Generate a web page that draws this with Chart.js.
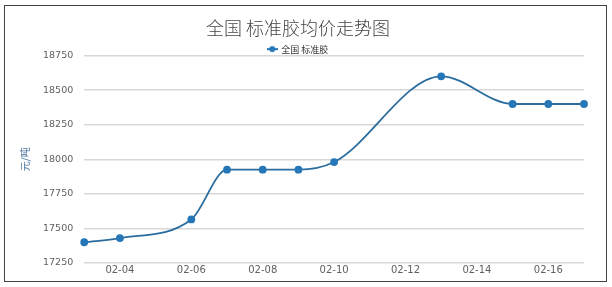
<!DOCTYPE html>
<html>
<head>
<meta charset="utf-8">
<script src="https://cdn.jsdelivr.net/npm/chart.js@4"></script>
<style>
  html, body { margin: 0; padding: 0; background: #fff; }
  #frame { position: absolute; left: 4px; top: 5px; width: 601px; height: 275px; border: 1px solid #444; }
</style>
</head>
<body>
<div id="frame"><canvas id="myChart"></canvas></div>
<script>
// dates on the x axis, one per day
const days = ["02-03", "02-04", "02-05", "02-06", "02-07", "02-08", "02-09", "02-10",
              "02-11", "02-12", "02-13", "02-14", "02-15", "02-16", "02-17"];
// price, null where there is no quote that day
const prices = [17400, 17430, null, 17565, 17925, 17925, 17925, 17980,
                null, null, 18600, null, 18400, 18400, 18400];
const yTicks = [17250, 17500, 17750, 18000, 18250, 18500, 18750];

const lineBlue = '#2a6d9e';
const dotBlue = '#2577b8';
const ctx = document.getElementById('myChart');

// legend symbol: short line with a dot
const sym = document.createElement('canvas');
sym.width = 11; sym.height = 8;
const s = sym.getContext('2d');
s.strokeStyle = dotBlue; s.lineWidth = 2;
s.beginPath(); s.moveTo(0, 4); s.lineTo(11, 4); s.stroke();
s.fillStyle = dotBlue;
s.beginPath(); s.arc(5.5, 4, 3, 0, Math.PI * 2); s.fill();

new Chart(ctx, {
  type: 'line',
  data: {
    labels: days,
    datasets: [{
      label: '全国 标准胶',
      data: prices,
      borderColor: lineBlue,
      backgroundColor: dotBlue,
      pointBorderColor: dotBlue,
      borderWidth: 1.8,
      pointRadius: 3,
      pointHoverRadius: 3,
      cubicInterpolationMode: 'monotone',
      spanGaps: true,
      clip: false
    }]
  },
  options: {
    responsive: true,
    maintainAspectRatio: false,
    animation: false,
    layout: { padding: { left: 7, right: 22, top: 0, bottom: 4 } },
    plugins: {
      title: {
        display: true,
        text: '全国 标准胶均价走势图',
        color: '#444',
        font: { family: '"Noto Sans CJK SC", "DejaVu Sans"', size: 18, weight: 300 },
        padding: { top: 11, bottom: 6 }
      },
      legend: {
        maxHeight: 11,
        labels: {
          usePointStyle: true,
          pointStyle: sym,
          color: '#333',
          font: { family: '"Noto Sans CJK SC", "DejaVu Sans"', size: 9 },
          padding: 0
        }
      },
      tooltip: { enabled: false }
    },
    scales: {
      x: {
        offset: false,
        grid: { display: false, drawTicks: false },
        border: { display: false },
        ticks: {
          color: '#606060',
          font: { family: '"DejaVu Sans"', size: 10 },
          maxRotation: 0,
          autoSkip: false,
          padding: 1,
          callback: function (v, i) { return i % 2 === 1 ? days[i] : ''; }
        }
      },
      y: {
        min: yTicks[0],
        max: yTicks[yTicks.length - 1],
        afterBuildTicks: function (axis) { axis.ticks = yTicks.map(v => ({ value: v })); },
        grid: { color: '#d8d8d8', lineWidth: 1.5, drawTicks: false },
        border: { display: false },
        title: {
          display: true,
          text: '元/吨',
          color: '#4d759e',
          font: { family: '"Noto Sans CJK SC"', size: 10 },
          padding: { top: 7, bottom: 1 }
        },
        ticks: {
          color: '#606060',
          font: { family: '"DejaVu Sans"', size: 9.5, lineHeight: 0.6 },
          padding: 11,
          callback: function (v) { return String(v); }
        }
      }
    }
  }
});
</script>
</body>
</html>
